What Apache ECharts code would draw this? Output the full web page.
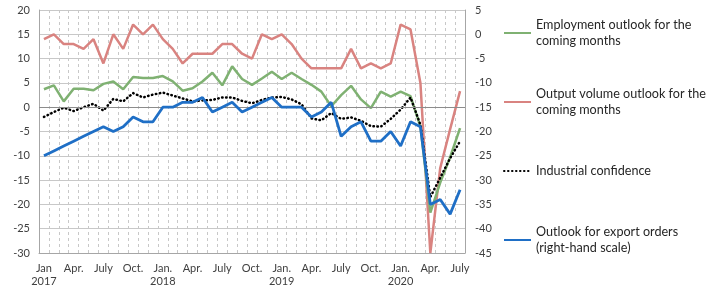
<!DOCTYPE html>
<html>
<head>
<meta charset="utf-8">
<title>Industry outlook</title>
<script src="https://cdn.jsdelivr.net/npm/echarts@6/dist/echarts.min.js"></script>
<style>
  html, body { margin: 0; padding: 0; background: #fff; }
  #chart { width: 720px; height: 300px; }
</style>
</head>
<body>
<div id="chart"></div>
<script>
// months Jan 2017 - July 2020
const months = [
  'Jan 2017', 'Feb 2017', 'Mar 2017', 'Apr 2017', 'May 2017', 'Jun 2017',
  'Jul 2017', 'Aug 2017', 'Sep 2017', 'Oct 2017', 'Nov 2017', 'Dec 2017',
  'Jan 2018', 'Feb 2018', 'Mar 2018', 'Apr 2018', 'May 2018', 'Jun 2018',
  'Jul 2018', 'Aug 2018', 'Sep 2018', 'Oct 2018', 'Nov 2018', 'Dec 2018',
  'Jan 2019', 'Feb 2019', 'Mar 2019', 'Apr 2019', 'May 2019', 'Jun 2019',
  'Jul 2019', 'Aug 2019', 'Sep 2019', 'Oct 2019', 'Nov 2019', 'Dec 2019',
  'Jan 2020', 'Feb 2020', 'Mar 2020', 'Apr 2020', 'May 2020', 'Jun 2020',
  'Jul 2020'
]

// one label every third month
const xLabels = [
  'Jan\n2017', 'Apr.', 'July', 'Oct.',
  'Jan.\n2018', 'Apr.', 'July', 'Oct.',
  'Jan.\n2019', 'Apr.', 'July', 'Oct.',
  'Jan.\n2020', 'Apr.', 'July'
]

// left-hand scale
const employment = [
  3.7, 4.5, 1.2, 3.8, 3.8, 3.5, 4.8, 5.3, 3.7, 6.2, 6.0, 6.0,
  6.4, 5.3, 3.4, 3.9, 5.3, 7.1, 4.5, 8.4, 5.8, 4.6, 5.9, 7.3,
  5.8, 7.1, 5.8, 4.6, 3.2, 0.2, 2.5, 4.4, 1.6, -0.2, 3.2, 2.2,
  3.2, 2.3, -4.0, -21.7, -15.5, -10.3, -4.3
]
const output = [
  14, 15, 13, 13, 12, 14, 9, 15, 12, 17, 15, 17,
  14, 12, 9, 11, 11, 11, 13, 13, 11, 10, 15, 14,
  15, 13, 10, 8, 8, 8, 8, 12, 8, 9, 8, 9,
  17, 16, 5, -30, -12.5, -4.5, 3.3
]
const confidence = [
  -2.0, -1.0, -0.1, -0.8, 0.0, 0.7, -0.7, 1.7, 1.2, 2.9, 2.0, 2.6,
  3.0, 2.4, 1.8, 1.2, 1.4, 1.5, 2.0, 2.0, 1.3, 0.8, 1.5, 2.0,
  2.1, 1.6, 0.6, -2.3, -2.7, -1.2, -2.4, -2.1, -2.8, -3.9, -4.0, -2.4,
  -0.5, 2.0, -3.6, -18.5, -14.5, -10.5, -7.0
]
// right-hand scale
const exportOrders = [
  -25, -24, -23, -22, -21, -20, -19, -20, -19, -17, -18, -18,
  -15, -15, -14, -14, -13, -16, -15, -14, -16, -15, -14, -13,
  -15, -15, -15, -17, -16, -14, -21, -19, -18, -22, -22, -20,
  -23, -18, -19, -35, -34, -37, -32
]

const names = [
  'Employment outlook for the\ncoming months',
  'Output volume outlook for the\ncoming months',
  'Industrial confidence',
  'Outlook for export orders\n(right-hand scale)'
]

const font = 'Lato, "Open Sans", sans-serif'
const textColor = '#404040'

const chart = echarts.init(document.getElementById('chart'))

// one legend per item, icon lined up with the first text line
const legendAt = (name, top, twoLines) => ({
  data: [name],
  left: 503,
  top,
  padding: 0,
  itemWidth: 27,
  itemHeight: 14,
  selectedMode: false,
  // hide the marker dot, keep only the line
  itemStyle: { opacity: 0 },
  textStyle: {
    fontFamily: font,
    fontSize: 12.6,
    color: '#262626',
    lineHeight: 16,
    padding: twoLines ? [16, 0, 0, 0] : 0
  }
})

const yAxisCommon = {
  type: 'value',
  interval: 5,
  axisLine: { show: true, lineStyle: { color: '#a6a6a6' } },
  axisTick: { show: false },
  axisLabel: { fontFamily: font, fontSize: 11, color: textColor }
}

const option = {
  animation: false,
  grid: { left: 39, right: 255, top: 10, bottom: 47 },
  legend: [
    legendAt(names[0], 9, true),
    legendAt(names[1], 78, true),
    legendAt(names[2], 163, false),
    legendAt(names[3], 216, true)
  ],
  xAxis: {
    type: 'category',
    data: months,
    boundaryGap: true,
    axisLine: { onZero: false, lineStyle: { color: '#a6a6a6' } },
    axisTick: { show: false },
    axisLabel: {
      interval: 2,
      margin: 9,
      fontFamily: font,
      fontSize: 11,
      lineHeight: 13,
      color: textColor,
      formatter: (v, i) => xLabels[i / 3]
    },
    splitLine: {
      show: true,
      interval: 0,
      lineStyle: { color: '#c8c8c8', type: [3, 3] }
    }
  },
  yAxis: [
    Object.assign({}, yAxisCommon, {
      min: -30,
      max: 20,
      axisLabel: Object.assign({}, yAxisCommon.axisLabel, { margin: 9 }),
      splitLine: { lineStyle: { color: '#c8c8c8' } }
    }),
    Object.assign({}, yAxisCommon, {
      min: -45,
      max: 5,
      position: 'right',
      axisLabel: Object.assign({}, yAxisCommon.axisLabel, { margin: 10 }),
      splitLine: { show: false }
    })
  ],
  series: [
    {
      name: names[1],
      type: 'line',
      data: output,
      symbol: 'none',
      color: '#d98380',
      lineStyle: { width: 2.5 },
      // darker zero line of the left scale
      markLine: {
        silent: true,
        symbol: 'none',
        label: { show: false },
        lineStyle: { color: '#8c8c8c', type: 'solid', width: 1 },
        data: [{ yAxis: 0 }]
      },
      z: 2
    },
    {
      name: names[0],
      type: 'line',
      data: employment,
      symbol: 'none',
      color: '#7fb172',
      lineStyle: { width: 2.5 },
      z: 3
    },
    {
      name: names[2],
      type: 'line',
      data: confidence,
      symbol: 'none',
      color: '#000',
      lineStyle: { width: 2.5, type: [0.5, 3.5], cap: 'round' },
      z: 4
    },
    {
      name: names[3],
      type: 'line',
      yAxisIndex: 1,
      data: exportOrders,
      symbol: 'none',
      color: '#1f6fc6',
      lineStyle: { width: 2.8 },
      z: 5
    }
  ]
}

chart.setOption(option)

window.addEventListener('resize', () => chart.resize())
</script>
</body>
</html>
